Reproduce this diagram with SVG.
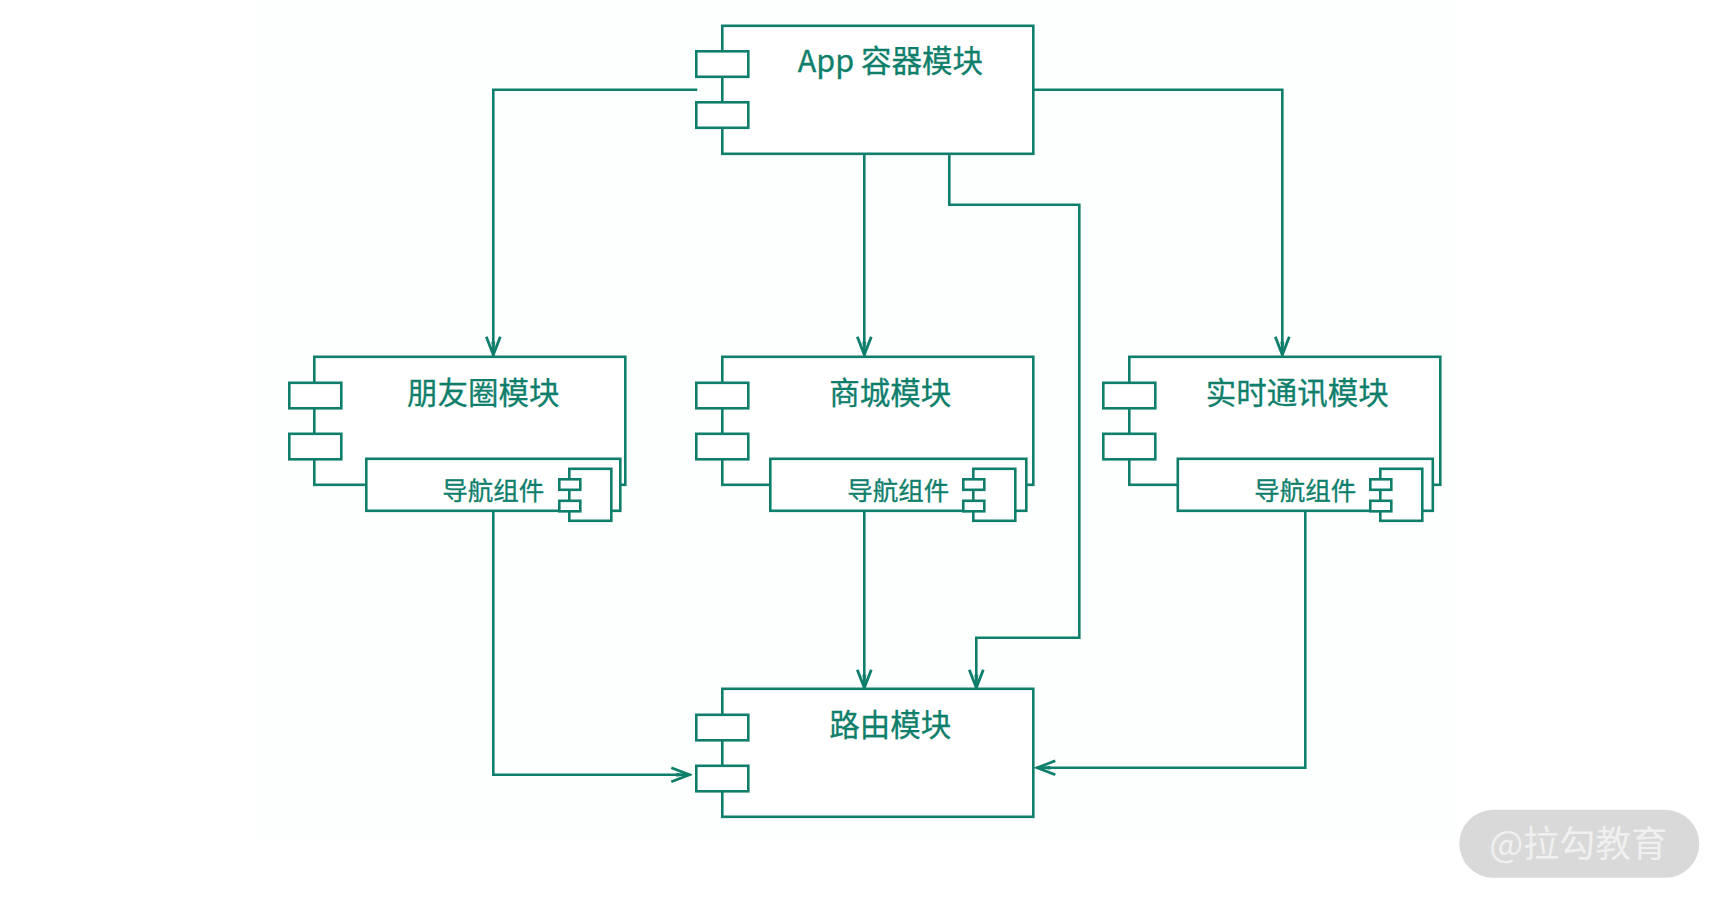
<svg xmlns="http://www.w3.org/2000/svg" width="1724" height="899" viewBox="0 0 1724 899">
<style>
.b{fill:#fff;stroke:#0f7f6c;stroke-width:2.600}
.c{fill:none;stroke:#0f7f6c;stroke-width:2.600}
.t{font-family:"Noto Sans CJK SC","Liberation Sans",sans-serif;fill:#0f7f6c;text-anchor:middle;font-weight:400;stroke:#0f7f6c;stroke-width:0.300}
.m{font-size:30.500px}
.s{font-size:25.500px}
</style>
<defs>
<marker id="v" markerUnits="userSpaceOnUse" markerWidth="24" markerHeight="20" refX="22" refY="10" orient="auto" viewBox="0 0 24 20">
<path d="M3 3 L21 10 L3 17" fill="none" stroke="#0f7f6c" stroke-width="2.800"/>
<path d="M8 8 L21 10 L8 12 Z" fill="#0f7f6c"/>
</marker>
<g id="tabs">
<rect class="b" x="0" y="0" width="52" height="25.500"/>
<rect class="b" x="0" y="51" width="52" height="25.500"/>
</g>
<g id="mini">
<rect class="b" x="10" y="0" width="42" height="52"/>
<rect class="b" x="0" y="10.500" width="21" height="10.500"/>
<rect class="b" x="0" y="32" width="21" height="10.500"/>
</g>
</defs>
<rect x="0" y="0" width="1724" height="899" fill="#fff"/>
<rect x="258" y="0" width="1200" height="842" fill="#fdfefe"/>
<g transform="translate(0.300 0.800)">
<g id="connectors">
<path class="c" d="M697 89H493V355" marker-end="url(#v)"/>
<path class="c" d="M864 153V355" marker-end="url(#v)"/>
<path class="c" d="M1033 89H1282V355" marker-end="url(#v)"/>
<path class="c" d="M949 153V204H1079V637H976V688" marker-end="url(#v)"/>
<path class="c" d="M493 510V774H690" marker-end="url(#v)"/>
<path class="c" d="M864 510V688" marker-end="url(#v)"/>
<path class="c" d="M1305 510V767H1036" marker-end="url(#v)"/>
</g>
<g id="app">
<rect class="b" x="722" y="25" width="311" height="128"/>
<use href="#tabs" x="696" y="50.500"/>
<text class="t m" x="890" y="71">App 容器模块</text>
</g>
<g id="moments">
<rect class="b" x="314" y="356" width="311" height="128"/>
<use href="#tabs" x="289" y="382"/>
<text class="t m" x="483" y="403">朋友圈模块</text>
<rect class="b" x="366" y="458" width="254" height="52"/>
<use href="#mini" x="559" y="468"/>
<text class="t s" x="493" y="499">导航组件</text>
</g>
<g id="mall">
<rect class="b" x="722" y="356" width="311" height="128"/>
<use href="#tabs" x="696" y="382"/>
<text class="t m" x="890" y="403">商城模块</text>
<rect class="b" x="770" y="458" width="256" height="52"/>
<use href="#mini" x="963" y="468"/>
<text class="t s" x="898" y="499">导航组件</text>
</g>
<g id="im">
<rect class="b" x="1129" y="356" width="311" height="128"/>
<use href="#tabs" x="1103" y="382"/>
<text class="t m" x="1297" y="403">实时通讯模块</text>
<rect class="b" x="1177.500" y="458" width="255" height="52"/>
<use href="#mini" x="1370" y="468"/>
<text class="t s" x="1305" y="499">导航组件</text>
</g>
<g id="router">
<rect class="b" x="722" y="688" width="311" height="128"/>
<use href="#tabs" x="696" y="714"/>
<text class="t m" x="890" y="735">路由模块</text>
</g>
<g id="watermark">
<rect x="1459" y="809" width="240" height="68" rx="34" fill="#d9d9d9"/>
<text x="1578" y="856" text-anchor="middle" font-family="Noto Sans CJK SC,sans-serif" font-size="36" fill="#f0f0f0">@拉勾教育</text>
</g>
</g>
</svg>
